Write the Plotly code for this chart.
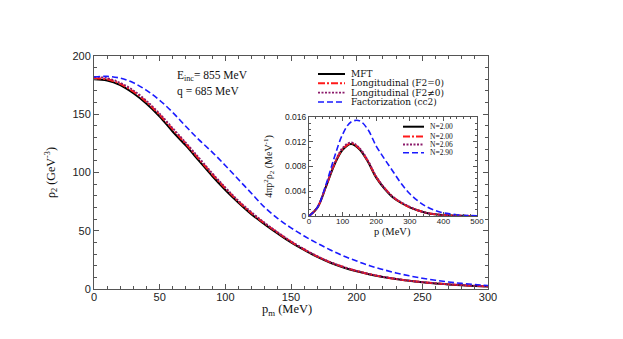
import plotly.graph_objects as go

# main panel: rho_2 vs missing momentum p_m
pm = [0, 10, 20, 30, 40, 50, 60, 70, 80, 90, 100, 110, 120, 130, 140, 150,
      160, 170, 180, 190, 200, 210, 220, 230, 240, 250, 260, 270, 280, 290, 300]
rho_mft = [180, 179, 175, 168, 159, 148, 135, 123, 110, 97, 85, 74, 64, 55.5, 47.5, 40,
           33.5, 27.5, 22.5, 18.5, 15.2, 12.5, 10.3, 8.5, 7, 5.8, 4.8, 3.9, 3.2, 2.6, 2.1]
rho_long0 = [181, 180, 176, 169.5, 160.5, 149.5, 137, 124.5, 111.5, 98.5, 86.5, 75, 65, 56.3, 48.2, 40.7,
             34, 28, 22.9, 18.9, 15.4, 12.7, 10.4, 8.6, 7.1, 5.9, 4.9, 4, 3.3, 2.7, 2.2]
rho_long1 = [182, 181, 177, 170.5, 161.5, 150.5, 138, 125.5, 112.5, 99.5, 87.2, 75.8, 65.8, 56.8, 48.6, 41,
             34.3, 28.2, 23.1, 19, 15.6, 12.8, 10.5, 8.7, 7.1, 5.9, 4.9, 4, 3.3, 2.7, 2.2]
rho_fact = [182, 182.5, 181, 177, 170.5, 162, 151.5, 139.5, 128, 117.5, 106, 94, 82, 70, 60.5, 52.5,
            45.5, 39.2, 33.5, 28.3, 24, 20, 16.7, 13.8, 11.3, 9.2, 7.5, 6, 4.8, 3.8, 3.0]
main_names = ["MFT", "Longitudinal (F2=0)", "Longitudinal (F2≠0)", "Factorization (cc2)"]

# inset: 4 pi p^2 rho_2 vs p
p_in = [0, 25, 50, 75, 100, 125, 150, 175, 200, 225, 250, 275, 300, 325, 350, 375, 400, 425, 450, 475, 500]
n_mft = [0, 0.00135, 0.00465, 0.0082, 0.0107, 0.01165, 0.0108, 0.0088, 0.0062, 0.0044, 0.0030, 0.0021, 0.0014,
         0.0009, 0.0005, 0.00028, 0.00015, 0.00008, 0.00004, 0.00002, 0.00001]
n_long0 = [0, 0.00137, 0.0047, 0.0083, 0.0108, 0.01175, 0.0109, 0.0089, 0.0063, 0.0045, 0.0031, 0.0021, 0.0014,
           0.0009, 0.0005, 0.00028, 0.00015, 0.00008, 0.00004, 0.00002, 0.00001]
n_long1 = [0, 0.00139, 0.0048, 0.0084, 0.0110, 0.0119, 0.0110, 0.0090, 0.0064, 0.0045, 0.0031, 0.0022, 0.0015,
           0.0009, 0.0005, 0.0003, 0.00016, 0.00008, 0.00004, 0.00002, 0.00001]
n_fact = [0, 0.0014, 0.0050, 0.0094, 0.0132, 0.0152, 0.0154, 0.0140, 0.0113, 0.0092, 0.0072, 0.0052, 0.0036,
          0.0024, 0.0015, 0.0009, 0.0005, 0.0003, 0.00015, 0.00008, 0.00004]
inset_names = ["N=2.00", "N=2.00", "N=2.06", "N=2.90"]

colors = ["#000000", "#ff1a1a", "#8b1a6b", "#1a1aff"]
dashes = ["solid", "7px,2px,2px,2px", "2px,1.5px", "6px,3px"]
widths = [2, 2, 1.8, 1.6]

serif = "Liberation Serif"
wide_serif = "DejaVu Serif"
sans = "Liberation Sans"
ink = "#111"

fig = go.Figure()
for ys, nm, c, d, w in zip([rho_mft, rho_long0, rho_long1, rho_fact], main_names, colors, dashes, widths):
    fig.add_trace(go.Scatter(x=pm, y=ys, mode="lines", name=nm, showlegend=False,
                             line=dict(color=c, dash=d, width=w, shape="spline")))
for ys, nm, c, d, w in zip([n_mft, n_long0, n_long1, n_fact], inset_names, colors, dashes, widths):
    fig.add_trace(go.Scatter(x=p_in, y=ys, mode="lines", name=nm, showlegend=False,
                             xaxis="x2", yaxis="y2",
                             line=dict(color=c, dash=d, width=w, shape="spline")))

# plot area in (reference) pixels: x 94..488, y 56..289; page body adds an 8px offset
L, R, T, B = 94, 488, 56, 289
OFF = 8


def px(x):
    return (x - L) / (R - L)


def py(y):
    return (B - y) / (B - T)


axis_common = dict(showline=True, linecolor="#555", linewidth=1, mirror="ticks",
                   ticks="inside", tickcolor="#555", showgrid=False, zeroline=False)

fig.update_layout(
    width=623, height=339,
    margin=dict(l=L - OFF, r=623 - R + OFF, t=T - OFF, b=339 - B + OFF),
    paper_bgcolor="white", plot_bgcolor="white",
    xaxis=dict(range=[0, 300], dtick=50, ticklen=5, ticklabelstandoff=-2,
               minor=dict(dtick=10, ticks="inside", ticklen=3, tickcolor="#555"),
               tickfont=dict(family=sans, size=11, color="#222"),
               **axis_common),
    yaxis=dict(range=[0, 200], dtick=50, ticklen=5,
               minor=dict(dtick=10, ticks="inside", ticklen=3, tickcolor="#555"),
               tickfont=dict(family=sans, size=11, color="#222"),
               title=dict(text="ρ<sub>2</sub> (GeV<sup>-3</sup>)", font=dict(family=serif, size=12, color=ink),
                          standoff=14),
               **axis_common),
    xaxis2=dict(domain=[px(309), px(477)], anchor="y2", range=[0, 500], dtick=100, ticklen=4,
                ticklabelstandoff=-3,
                minor=dict(dtick=20, ticks="inside", ticklen=2, tickcolor="#555"),
                tickfont=dict(family=sans, size=8, color="#222"),
                **axis_common),
    yaxis2=dict(domain=[py(216), py(117)], anchor="x2", range=[0, 0.016], dtick=0.004, ticklen=4,
                minor=dict(dtick=0.001, ticks="inside", ticklen=2, tickcolor="#555"),
                tickfont=dict(family=sans, size=8.5, color="#222"),
                title=dict(text="4πp<sup>2</sup>ρ<sub>2</sub> (MeV<sup>-1</sup>)",
                           font=dict(family=serif, size=10, color=ink), standoff=10),
                **axis_common),
)

# hand-drawn legends (compact row spacing like the original)
shapes = []
annotations = []
main_rows = [74, 83.3, 92.7, 102]
for nm, c, d, w, yy in zip(main_names, colors, dashes, widths, main_rows):
    shapes.append(dict(type="line", xref="paper", yref="paper", x0=px(318), x1=px(345), y0=py(yy), y1=py(yy),
                       line=dict(color=c, dash=d, width=w)))
    annotations.append(dict(text=nm, xref="paper", yref="paper", x=px(349), y=py(yy), xanchor="left",
                            yanchor="middle", showarrow=False, font=dict(family=wide_serif, size=9, color=ink)))
inset_rows = [126.7, 136.5, 144.5, 152.7]
for nm, c, d, w, yy in zip(inset_names, colors, dashes, widths, inset_rows):
    shapes.append(dict(type="line", xref="paper", yref="paper", x0=px(403), x1=px(424), y0=py(yy), y1=py(yy),
                       line=dict(color=c, dash=d, width=w)))
    annotations.append(dict(text=nm, xref="paper", yref="paper", x=px(428), y=py(yy), xanchor="left",
                            yanchor="middle", showarrow=False, font=dict(family=serif, size=7.5, color=ink)))

annotations.append(dict(text="E<sub>inc</sub>= 855 MeV", xref="paper", yref="paper", x=px(175), y=py(76),
                        xanchor="left", yanchor="middle", showarrow=False,
                        font=dict(family=serif, size=11.5, color=ink)))
annotations.append(dict(text="q = 685 MeV", xref="paper", yref="paper", x=px(175), y=py(91),
                        xanchor="left", yanchor="middle", showarrow=False,
                        font=dict(family=serif, size=11.5, color=ink)))
# axis titles placed where the original has them
annotations.append(dict(text="p<sub>m</sub> (MeV)", xref="paper", yref="paper", x=px(287), y=py(310),
                        xanchor="center", yanchor="middle", showarrow=False,
                        font=dict(family=serif, size=12.5, color=ink)))
annotations.append(dict(text="p (MeV)", xref="paper", yref="paper", x=px(392), y=py(232),
                        xanchor="center", yanchor="middle", showarrow=False,
                        font=dict(family=serif, size=10.5, color=ink)))

fig.update_layout(shapes=shapes, annotations=annotations)

fig.write_html("out.html")
